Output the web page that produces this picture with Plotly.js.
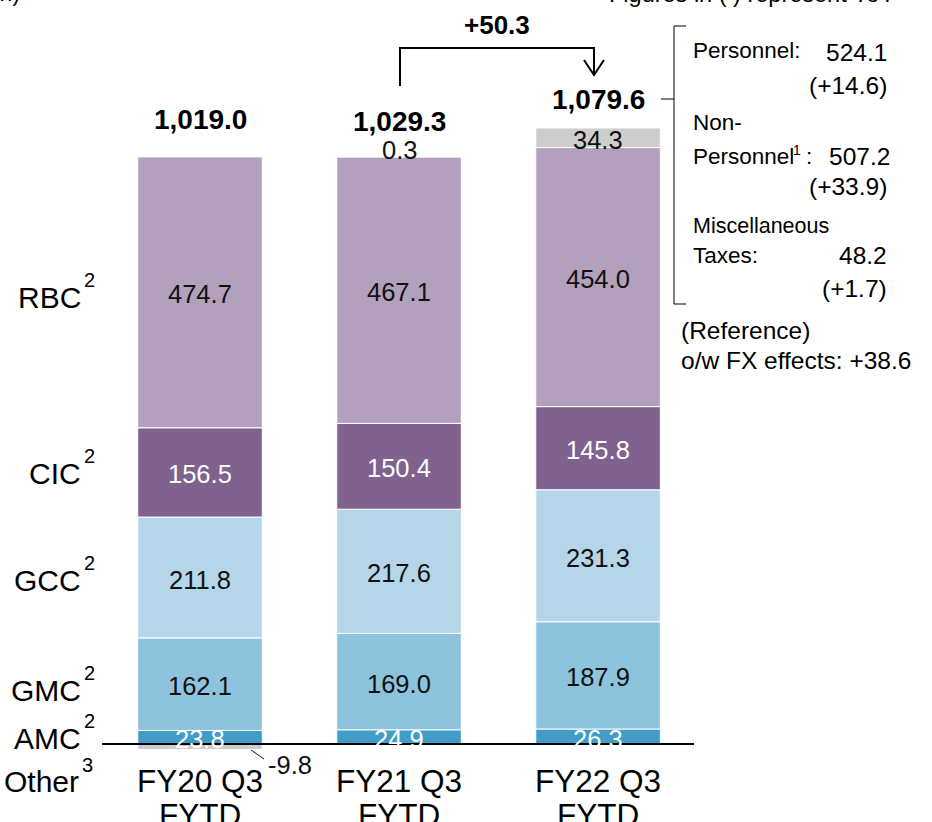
<!DOCTYPE html>
<html>
<head>
<meta charset="utf-8">
<script src="https://cdn.plot.ly/plotly-3.0.1.min.js"></script>
<style>
  html, body { margin: 0; padding: 0; background: #ffffff; }
  #chart { width: 932px; height: 822px; }
</style>
</head>
<body>
<div id="chart"></div>
<script>
// Operating expenses by business segment, Q3 fiscal-year-to-date (JPY bn)
const periods = ['FY20 Q3', 'FY21 Q3', 'FY22 Q3'];
const periodSuffix = 'FYTD';

const segmentNames = ['AMC', 'GMC', 'GCC', 'CIC', 'RBC', 'Other'];
const segmentNotes = ['2', '2', '2', '2', '2', '3'];
const amc   = [23.8, 24.9, 26.3];
const gmc   = [162.1, 169.0, 187.9];
const gcc   = [211.8, 217.6, 231.3];
const cic   = [156.5, 150.4, 145.8];
const rbc   = [474.7, 467.1, 454.0];
const other = [-9.8, 0.3, 34.3];

const totals = [1019.0, 1029.3, 1079.6];
const totalChange = 50.3;

// FY22 breakdown by expense type, with YoY change
const costTypes   = ['Personnel', 'Non-Personnel', 'Miscellaneous Taxes'];
const costValues  = [524.1, 507.2, 48.2];
const costChanges = [14.6, 33.9, 1.7];
const fxEffect = 38.6;

// ---- drawing ----
const W = 932, H = 822;
const series = [amc, gmc, gcc, cic, rbc, other];
const colors = ['#429CC8', '#8DC3DD', '#B4D6E8', '#7F628D', '#B3A0BD', '#CDCDCD'];
const labelColors = ['#ffffff', '#111111', '#111111', '#ffffff', '#111111', '#111111'];
const FONT = '"Liberation Sans", Arial, sans-serif';

const fmt1 = v => v.toFixed(1);
const fmtTotal = v => v.toLocaleString('en-US', {minimumFractionDigits: 1, maximumFractionDigits: 1});
const signed = v => (v >= 0 ? '+' : '') + v.toFixed(1);

// paper coordinates from pixel positions
const px = x => x / W;
const py = y => 1 - y / H;

const traces = series.map((vals, i) => ({
  type: 'bar',
  name: segmentNames[i],
  x: periods,
  y: vals,
  marker: { color: colors[i], line: { color: '#ffffff', width: 1 } },
  hoverinfo: 'skip'
}));

const annotations = [];
const shapes = [];

// segment value labels, centred in each stacked block
const posTop = periods.map(() => 0);
series.forEach((vals, i) => {
  vals.forEach((v, j) => {
    let mid;
    if (v >= 0) { mid = posTop[j] + v / 2; posTop[j] += v; }
    else { mid = v / 2; }
    if (v < 0) return; // negative block is labelled beside the bar
    let yshift = -2;
    if (Math.abs(v) < 5) yshift = 7;
    annotations.push({
      xref: 'x', yref: 'y', x: periods[j], y: mid, yshift: yshift,
      text: fmt1(v), showarrow: false, xanchor: 'center', yanchor: 'middle',
      font: { family: FONT, size: 25.5, color: labelColors[i] }
    });
  });
});

// negative "Other" block label with leader
other.forEach((v, j) => {
  if (v < 0) {
    annotations.push({
      xref: 'paper', yref: 'paper', x: px(290), y: py(765),
      text: fmt1(v), showarrow: false, xanchor: 'center', yanchor: 'middle',
      font: { family: FONT, size: 25.5, color: '#111111' }
    });
    shapes.push({ type: 'line', xref: 'paper', yref: 'paper',
      x0: px(251), y0: py(750), x1: px(264), y1: py(759),
      line: { color: '#111111', width: 1 } });
  }
});

// totals above each bar
const totalShift = [37, 35, 28];
totals.forEach((t, j) => {
  annotations.push({
    xref: 'x', yref: 'y', x: periods[j], y: posTop[j], yshift: totalShift[j],
    text: '<b>' + fmtTotal(t) + '</b>', showarrow: false, xanchor: 'center', yanchor: 'middle',
    font: { family: FONT, size: 28, color: '#000000' }
  });
});

// period labels under the axis
periods.forEach((p, j) => {
  annotations.push({
    xref: 'x', yref: 'paper', x: p, y: py(781),
    text: p, showarrow: false, xanchor: 'center', yanchor: 'middle',
    font: { family: FONT, size: 31.5, color: '#000000' }
  });
  annotations.push({
    xref: 'x', yref: 'paper', x: p, y: py(815),
    text: periodSuffix, showarrow: false, xanchor: 'center', yanchor: 'middle',
    font: { family: FONT, size: 31.5, color: '#000000' }
  });
});

// segment names on the left, with note markers
const nameY = [738, 690, 580, 473, 297, 781];
const nameRight = [83, 83, 83, 83, 83, 81];
const noteY = [721, 673, 563, 456, 280, 765];
segmentNames.forEach((n, i) => {
  annotations.push({
    xref: 'paper', yref: 'paper', x: px(nameRight[i]), y: py(nameY[i]),
    text: n, showarrow: false, xanchor: 'right', yanchor: 'middle',
    font: { family: FONT, size: 30, color: '#000000' }
  });
  annotations.push({
    xref: 'paper', yref: 'paper', x: px(nameRight[i] + 6), y: py(noteY[i]),
    text: segmentNotes[i], showarrow: false, xanchor: 'center', yanchor: 'middle',
    font: { family: FONT, size: 20, color: '#000000' }
  });
});

// zero line
shapes.push({ type: 'line', xref: 'paper', yref: 'y', x0: px(102), x1: px(694), y0: 0, y1: 0,
  line: { color: '#000000', width: 2 } });

// YoY change arrow between FY21 and FY22
shapes.push({ type: 'path', xref: 'paper', yref: 'paper',
  path: `M ${px(400)} ${py(86)} L ${px(400)} ${py(48)} L ${px(594)} ${py(48)} L ${px(594)} ${py(74)}`,
  line: { color: '#000000', width: 2 } });
shapes.push({ type: 'path', xref: 'paper', yref: 'paper',
  path: `M ${px(584)} ${py(60)} L ${px(594)} ${py(75)} L ${px(604)} ${py(60)}`,
  line: { color: '#000000', width: 2 } });
annotations.push({
  xref: 'paper', yref: 'paper', x: px(497), y: py(25),
  text: '<b>' + signed(totalChange) + '</b>', showarrow: false, xanchor: 'center', yanchor: 'middle',
  font: { family: FONT, size: 26, color: '#000000' }
});

// bracket for the breakdown panel
shapes.push({ type: 'path', xref: 'paper', yref: 'paper',
  path: `M ${px(686)} ${py(26)} L ${px(674)} ${py(26)} L ${px(674)} ${py(304)} L ${px(686)} ${py(304)}`,
  line: { color: '#000000', width: 1 } });
shapes.push({ type: 'line', xref: 'paper', yref: 'paper',
  x0: px(661), x1: px(674), y0: py(99), y1: py(99),
  line: { color: '#000000', width: 1 } });

function txt(text, x, y, anchor, size) {
  annotations.push({
    xref: 'paper', yref: 'paper', x: px(x), y: py(y),
    text: text, showarrow: false, xanchor: anchor, yanchor: 'middle',
    font: { family: FONT, size: size, color: '#000000' }
  });
}

const RX = 889, LX = 691;
txt(costTypes[0] + ':', LX, 50, 'left', 22.5);
txt(fmt1(costValues[0]), RX, 52, 'right', 24.5);
txt('(' + signed(costChanges[0]) + ')', RX, 85, 'right', 24.5);

txt('Non-', LX, 122, 'left', 22.5);
txt('Personnel', LX, 156, 'left', 22.5);
txt('1', 797, 150, 'center', 14);
txt(':', 804, 156, 'left', 22.5);
txt(fmt1(costValues[1]), RX + 3, 156, 'right', 24.5);
txt('(' + signed(costChanges[1]) + ')', RX, 186, 'right', 24.5);

txt('Miscellaneous', LX, 226, 'left', 21.5);
txt('Taxes:', LX, 255, 'left', 22.5);
txt(fmt1(costValues[2]), RX, 255, 'right', 24.5);
txt('(' + signed(costChanges[2]) + ')', RX, 288, 'right', 24.5);

txt('(Reference)', 679, 330, 'left', 24.5);
txt('o/w FX effects: ' + signed(fxEffect), 679, 361, 'left', 24.5);

// header notes at the top edge
txt('Figures in ( ) represent YoY', 752, -6, 'center', 23.5);
txt('(JPY bn)', 22, -7, 'right', 23);

const layout = {
  width: W, height: H,
  margin: { l: 0, r: 0, t: 0, b: 0, pad: 0 },
  paper_bgcolor: '#ffffff', plot_bgcolor: '#ffffff',
  barmode: 'relative',
  bargap: 0.374,
  showlegend: false,
  xaxis: { type: 'category', range: [-1.005, 3.678], visible: false, fixedrange: true },
  yaxis: { range: [-136.7, 1303.9], visible: false, fixedrange: true },
  annotations: annotations,
  shapes: shapes
};

Plotly.newPlot('chart', traces, layout, { staticPlot: true, displayModeBar: false });
</script>
</body>
</html>
